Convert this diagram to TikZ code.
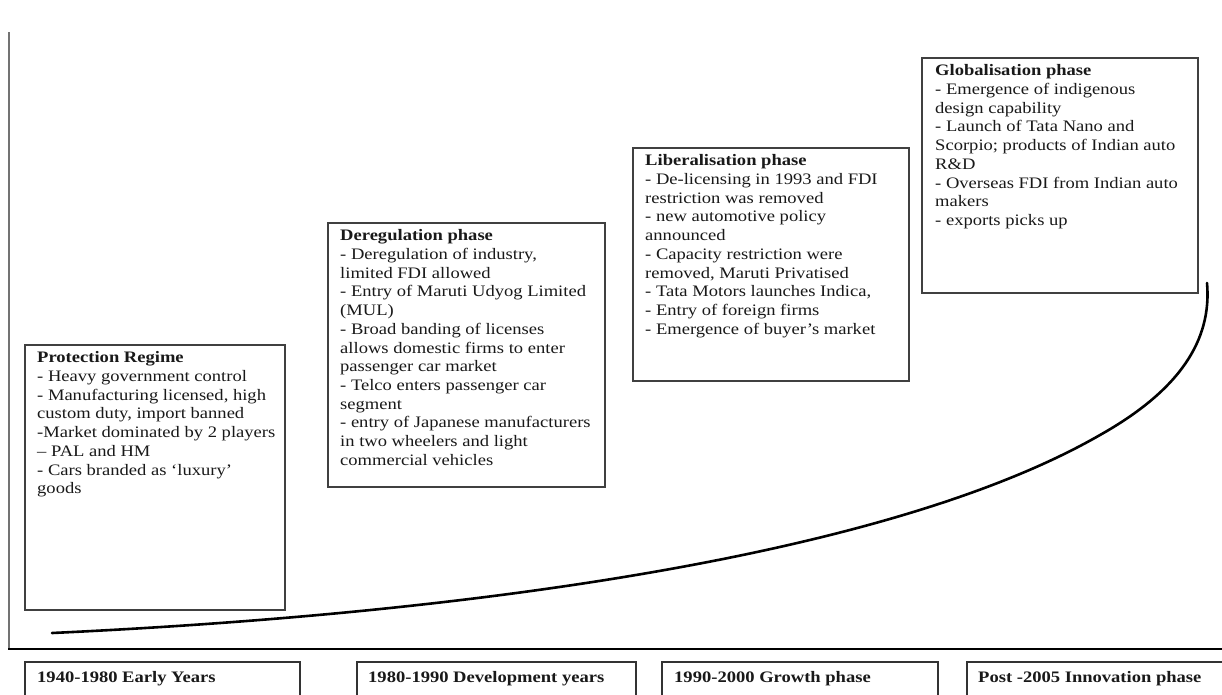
\documentclass[tikz,border=0pt]{standalone}
\usepackage{fontspec}
\setmainfont[FakeStretch=1.16]{Liberation Serif}
\begin{document}
\begin{tikzpicture}[x=1pt,y=-1pt,
  box/.style={draw=black!75, line width=1.1pt, inner sep=0pt, outer sep=0pt, anchor=north west},
  bbox/.style={draw=black!80, line width=1.4pt, inner sep=0pt, outer sep=0pt, anchor=north west},
  txt/.style={align=left, inner sep=0pt, anchor=north west, text=black!90, font=\fontsize{16}{18.7}\selectfont},
  btxt/.style={align=left, inner sep=0pt, anchor=north west, text=black!90, font=\fontsize{16}{18.7}\selectfont\bfseries},
  axisv/.style={draw=black!55, line width=1.8pt},
  axish/.style={draw=black, line width=2.6pt},
  growth/.style={draw=black, line width=2.6pt, line cap=round}]
\clip (0,0) rectangle (1222,694);
\fill[white] (0,0) rectangle (1222,694);

% axes
\coordinate (ytop) at (9,32);
\coordinate (orig) at (9,649);
\coordinate (xend) at (1222,649);
\draw[axisv] (ytop) -- (orig);
\draw[axish] ([xshift=-0.9pt]orig) -- (xend);

% growth curve
\coordinate (cstart) at (52,633);
\coordinate (cmid) at (1100,435);
\coordinate (cend) at (1207,283);
\draw[growth] (cstart) .. controls (500,612) and (900,550) .. (cmid)
  .. controls (1180,390) and (1212,340) .. (cend);

% phase boxes
\node[box, minimum width=260pt, minimum height=265pt] (b1) at (25,345) {};
\node[txt] (t1) at ([xshift=12pt,yshift=-6.5pt]b1.north west) {\textbf{Protection Regime}\\
- Heavy government control\\
- Manufacturing licensed, high\\
custom duty, import banned\\
-Market dominated by 2 players\\
-- PAL and HM\\
- Cars branded as ‘luxury’\\
goods};

\node[box, minimum width=277pt, minimum height=264pt] (b2) at (328,223) {};
\node[txt] (t2) at ([xshift=12pt,yshift=-6.5pt]b2.north west) {\textbf{Deregulation phase}\\
- Deregulation of industry,\\
limited FDI allowed\\
- Entry of Maruti Udyog Limited\\
(MUL)\\
- Broad banding of licenses\\
allows domestic firms to enter\\
passenger car market\\
- Telco enters passenger car\\
segment\\
- entry of Japanese manufacturers\\
in two wheelers and light\\
commercial vehicles};

\node[box, minimum width=276pt, minimum height=233pt] (b3) at (633,148) {};
\node[txt] (t3) at ([xshift=12pt,yshift=-6.5pt]b3.north west) {\textbf{Liberalisation phase}\\
- De-licensing in 1993 and FDI\\
restriction was removed\\
- new automotive policy\\
announced\\
- Capacity restriction were\\
removed, Maruti Privatised\\
- Tata Motors launches Indica,\\
- Entry of foreign firms\\
- Emergence of buyer’s market};

\node[box, minimum width=276pt, minimum height=235pt] (b4) at (922,58) {};
\node[txt] (t4) at ([xshift=13pt,yshift=-6.5pt]b4.north west) {\textbf{Globalisation phase}\\
- Emergence of indigenous\\
design capability\\
- Launch of Tata Nano and\\
Scorpio; products of Indian auto\\
R\&D\\
- Overseas FDI from Indian auto\\
makers\\
- exports picks up};

% period boxes
\node[bbox, minimum width=275pt, minimum height=60pt] (p1) at (25,662) {};
\node[btxt] (q1) at ([xshift=12pt,yshift=-9pt]p1.north west) {1940-1980 Early Years};
\node[bbox, minimum width=279pt, minimum height=60pt] (p2) at (357,662) {};
\node[btxt] (q2) at ([xshift=11pt,yshift=-9pt]p2.north west) {1980-1990 Development years};
\node[bbox, minimum width=276pt, minimum height=60pt] (p3) at (662,662) {};
\node[btxt] (q3) at ([xshift=12pt,yshift=-9pt]p3.north west) {1990-2000 Growth phase};
\node[bbox, minimum width=280pt, minimum height=60pt] (p4) at (967,662) {};
\node[btxt] (q4) at ([xshift=11pt,yshift=-9pt]p4.north west) {Post -2005 Innovation phase};
\end{tikzpicture}
\end{document}
